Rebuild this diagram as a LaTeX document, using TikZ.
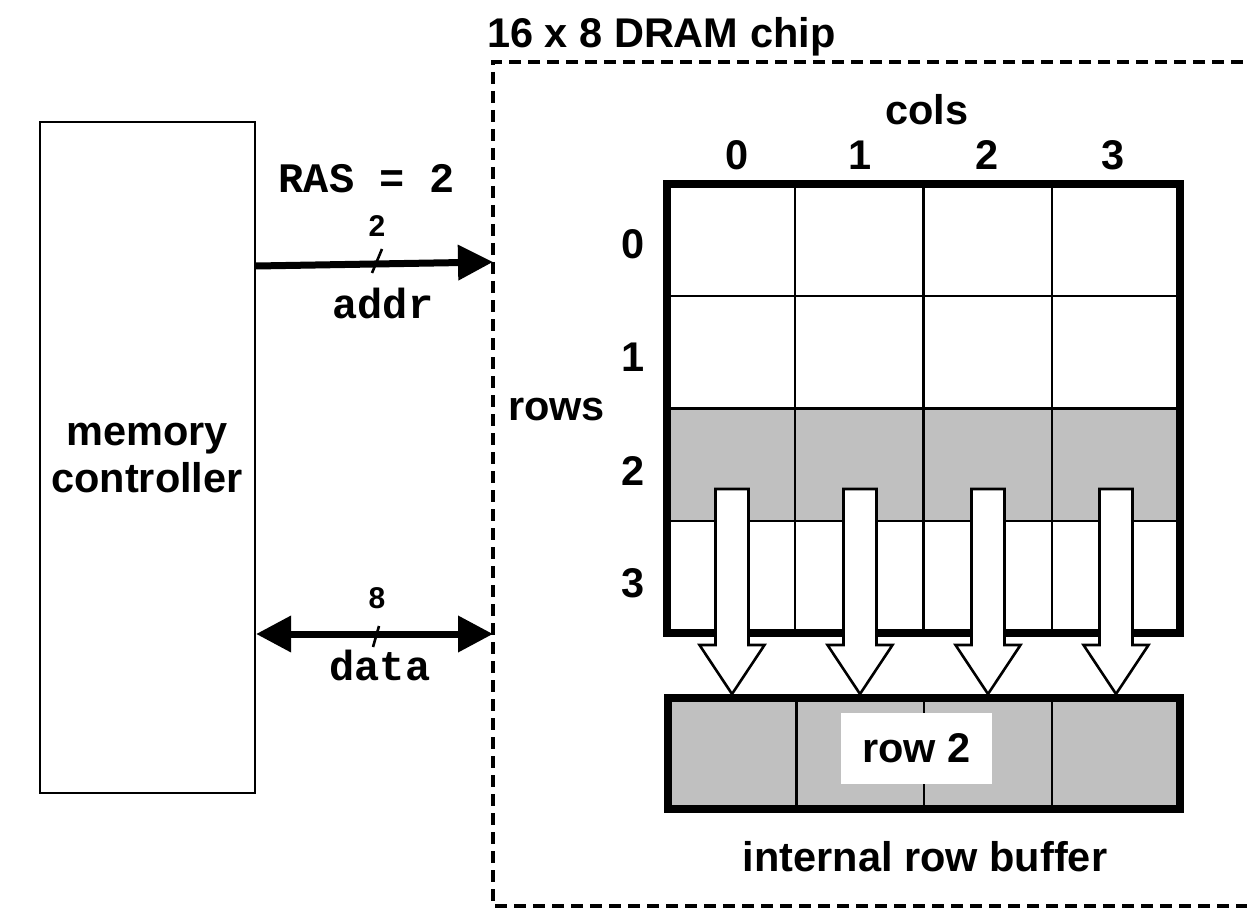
\documentclass[tikz,border=0pt]{standalone}
\usepackage{fontspec}
\setmainfont{Liberation Sans}
\newfontfamily\monob{Liberation Mono}
\usetikzlibrary{arrows.meta}
\definecolor{cellgray}{HTML}{C0C0C0}
\begin{document}
\begin{tikzpicture}[x=1pt,y=-1pt,
  lbl/.style={inner sep=0pt,font=\fontsize{41.5}{48}\selectfont\bfseries},
  mono/.style={inner sep=0pt,font=\fontsize{42}{48}\selectfont\monob\bfseries},
  buswidthlbl/.style={inner sep=0pt,font=\bfseries\fontsize{30}{34}\selectfont},
  thin/.style={line width=2.2pt},
  bus/.style={line width=7pt},
  blockarrow/.style={draw=black,fill=white,line width=2.6pt,line join=miter},
]
\useasboundingbox (0,0) rectangle (1247,909);

% memory controller
\node[draw,thin,minimum width=215pt,minimum height=671pt,inner sep=0pt] (mc) at (147.5,457.5) {};
\node[lbl,anchor=base] (mcA) at (147,445) {memory};
\node[lbl,anchor=base] (mcB) at (147,492) {controller};

% DRAM chip dashed box
\draw[line width=3.3pt,dash pattern=on 12pt off 7pt] (1262,62) -- (493,62) -- (493,906) -- (1262,906);
\coordinate (chipA) at (493,262);
\coordinate (chipD) at (493,634);
\node[lbl,anchor=base west] (title) at (487,48) {16 x 8 DRAM chip};

% grid
\fill[cellgray] (667,408.5) rectangle (1180,520.75);
\foreach \y in {296,408.5,520.75} \draw[thin] (667,\y) -- (1180,\y);
\foreach \x in {795.25,923.5,1051.75} \draw[thin] (\x,184) -- (\x,633);
\node[draw,line width=8pt,minimum width=513pt,minimum height=449pt,inner sep=0pt] (grid) at (923.5,408.5) {};

% labels
\node[lbl,anchor=base] (cols) at (927,125) {cols};
\node[lbl,anchor=base] (c0) at (737,170) {0};
\node[lbl,anchor=base] (c1) at (860,170) {1};
\node[lbl,anchor=base] (c2) at (987,170) {2};
\node[lbl,anchor=base] (c3) at (1113,170) {3};
\node[lbl,anchor=base] (r0) at (633,259) {0};
\node[lbl,anchor=base] (r1) at (633,371) {1};
\node[lbl,anchor=base] (r2) at (633,485) {2};
\node[lbl,anchor=base] (r3) at (633,597) {3};
\node[lbl,anchor=base west] (rows) at (508,420) {rows};

% row buffer
\fill[cellgray] (668,698) rectangle (1180,809);
\foreach \x in {796.5,924,1052} \draw[thin] (\x,698) -- (\x,809);
\node[draw,line width=8pt,minimum width=512pt,minimum height=111pt,inner sep=0pt] (buf) at (924,753.5) {};
\node[fill=white,minimum width=151pt,minimum height=71pt,inner sep=0pt] (rowbox) at (916.5,748.5) {};
\node[lbl,anchor=base] (rowtxt) at (916.5,762) {row 2};
\node[lbl,anchor=base] (buftxt) at (925,871) {internal row buffer};

% block arrows
\foreach \c in {732,860,988,1116}{
  \draw[blockarrow] (\c-16.5,489) -- (\c+16.5,489) -- (\c+16.5,645) -- (\c+32.5,645)
     -- (\c,694) -- (\c-32.5,645) -- (\c-16.5,645) -- cycle;
}

% addr bus
\draw[bus,-{Triangle[length=35pt,width=34pt]}] (mc.east |- 0,266) -- (chipA);
\draw[line width=2.6pt] (372,273) -- (382,249);
\node[mono,anchor=base] (ras) at (367,193) {RAS = 2};
\node[buswidthlbl,anchor=base] (n2) at (377,237) {2};
\node[mono,anchor=base] (addr) at (383,318) {addr};

% data bus
\draw[bus,{Triangle[length=35pt,width=35pt]}-{Triangle[length=35pt,width=35pt]}] (mc.east |- chipD) -- (chipD);
\draw[line width=2.6pt] (373,647) -- (379,626);
\node[buswidthlbl,anchor=base] (n8) at (377,608) {8};
\node[mono,anchor=base] (data) at (380,680) {data};
\end{tikzpicture}
\end{document}
